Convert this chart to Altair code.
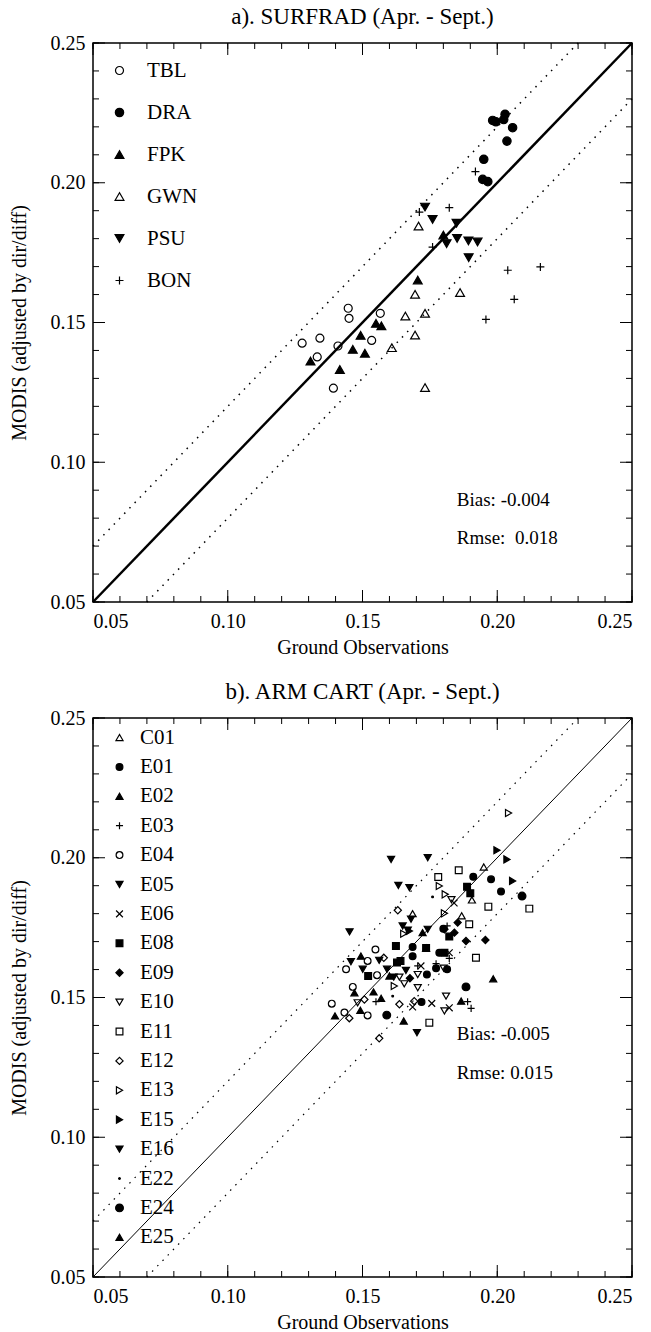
import altair as alt
import pandas as pd

FONT = "Liberation Serif"

TICKS_MINOR = [0.05, 0.06, 0.07, 0.08, 0.09, 0.10, 0.11, 0.12, 0.13, 0.14, 0.15,
               0.16, 0.17, 0.18, 0.19, 0.20, 0.21, 0.22, 0.23, 0.24, 0.25]
TICKS_MAJOR = [0.05, 0.10, 0.15, 0.20, 0.25]

ONE_X = [0.05, 0.25]
ONE_Y = [0.05, 0.25]
UP_X = [0.05, 0.23]
UP_Y = [0.07, 0.25]
LO_X = [0.07, 0.25]
LO_Y = [0.05, 0.23]

PLUS = "M-1,0L1,0M0,-1L0,1"
XMARK = "M-1,-1L1,1M-1,1L1,-1"

# ---------------- panel a : SURFRAD ----------------
A_TBL = [(0.1276, 0.1426), (0.1342, 0.1444), (0.1332, 0.1377), (0.1447, 0.1551), (0.1450, 0.1515),
         (0.1409, 0.1416), (0.1534, 0.1436), (0.1566, 0.1533), (0.1392, 0.1265)]
A_DRA = [(0.1983, 0.2223), (0.1995, 0.2218), (0.2024, 0.2226), (0.2029, 0.2245), (0.2057, 0.2197),
         (0.2036, 0.2149), (0.1950, 0.2084), (0.1946, 0.2012), (0.1965, 0.2004)]
A_FPK = [(0.1307, 0.1362), (0.1416, 0.1332), (0.1464, 0.1404), (0.1493, 0.1454), (0.1509, 0.1390),
         (0.1550, 0.1497), (0.1570, 0.1488), (0.1705, 0.1652), (0.1800, 0.1813)]
A_GWN = [(0.1708, 0.1845), (0.1695, 0.1601), (0.1862, 0.1607), (0.1659, 0.1523), (0.1732, 0.1533),
         (0.1695, 0.1455), (0.1609, 0.1410), (0.1732, 0.1267)]
A_PSU = [(0.1732, 0.1913), (0.1760, 0.1869), (0.1849, 0.1855), (0.1812, 0.1782), (0.1851, 0.1801),
         (0.1893, 0.1792), (0.1927, 0.1788), (0.1894, 0.1732)]
A_BON = [(0.1919, 0.2040), (0.1711, 0.1895), (0.1822, 0.1911), (0.1760, 0.1770), (0.2039, 0.1687),
         (0.2160, 0.1699), (0.2063, 0.1583), (0.1958, 0.1511)]

A_SITES = ["TBL", "DRA", "FPK", "GWN", "PSU", "BON"]
A_POINTS = [A_TBL, A_DRA, A_FPK, A_GWN, A_PSU, A_BON]
A_SHAPES = ["circle", "circle", "triangle-up", "triangle-up", "triangle-down", PLUS]
A_FILLS = ["transparent", "black", "black", "transparent", "black", "transparent"]
A_SIZES = [64, 70, 78, 78, 78, 64]
A_STATS = ["Bias: -0.004", "Rmse:\u00a0 0.018"]
A_STATS_X = [0.185, 0.185]
A_STATS_Y = [0.0865, 0.0729]

# ---------------- panel b : ARM CART ----------------
B_C01 = [(0.1950, 0.1967), (0.1686, 0.1800), (0.1906, 0.1849), (0.1868, 0.1792), (0.1736, 0.1677)]
B_E01 = [(0.1911, 0.1932), (0.1977, 0.1923), (0.2014, 0.1879), (0.1686, 0.1681), (0.1800, 0.1746),
         (0.1686, 0.1648), (0.1785, 0.1660), (0.1719, 0.1484), (0.1739, 0.1582), (0.1773, 0.1605),
         (0.1814, 0.1601)]
B_E02 = [(0.1723, 0.1732), (0.1494, 0.1648), (0.1470, 0.1517), (0.1541, 0.1520), (0.1569, 0.1497),
         (0.1492, 0.1454), (0.1985, 0.1567), (0.1600, 0.1577)]
B_E03 = [(0.1814, 0.1756), (0.1705, 0.1613), (0.1773, 0.1621), (0.1822, 0.1640), (0.1550, 0.1485),
         (0.1890, 0.1485), (0.1903, 0.1461)]
B_E04 = [(0.1548, 0.1672), (0.1519, 0.1631), (0.1439, 0.1601), (0.1554, 0.1580), (0.1464, 0.1538),
         (0.1386, 0.1478), (0.1433, 0.1446), (0.1519, 0.1436)]
B_E05 = [(0.1680, 0.1780), (0.1649, 0.1756), (0.1668, 0.1741), (0.1742, 0.1744), (0.1457, 0.1628),
         (0.1562, 0.1633), (0.1591, 0.1601), (0.1661, 0.1597), (0.1702, 0.1374), (0.1616, 0.1573),
         (0.1501, 0.1601)]
B_E06 = [(0.1840, 0.1838), (0.1686, 0.1466), (0.1757, 0.1479), (0.1717, 0.1613), (0.1822, 0.1463),
         (0.1822, 0.1660)]
B_E08 = [(0.1888, 0.1896), (0.1900, 0.1873), (0.1822, 0.1718), (0.1624, 0.1684), (0.1641, 0.1631),
         (0.1521, 0.1577), (0.1628, 0.1625), (0.1804, 0.1660), (0.1736, 0.1677)]
B_E09 = [(0.1853, 0.1768), (0.1841, 0.1732), (0.1884, 0.1702), (0.1956, 0.1706), (0.1804, 0.1744),
         (0.1676, 0.1569)]
B_E10 = [(0.1482, 0.1481), (0.1810, 0.1505), (0.1804, 0.1452), (0.1705, 0.1535), (0.1705, 0.1582),
         (0.1655, 0.1549), (0.1637, 0.1573), (0.1830, 0.1850), (0.1801, 0.1605)]
B_E11 = [(0.1857, 0.1955), (0.1781, 0.1931), (0.1967, 0.1825), (0.1896, 0.1762), (0.2119, 0.1818),
         (0.1921, 0.1642), (0.1748, 0.1410)]
B_E12 = [(0.1631, 0.1812), (0.1579, 0.1642), (0.1507, 0.1493), (0.1451, 0.1426), (0.1637, 0.1476),
         (0.1562, 0.1354), (0.1692, 0.1487)]
B_E13 = [(0.2042, 0.2160), (0.1785, 0.1899), (0.1807, 0.1869), (0.1804, 0.1801), (0.1653, 0.1728),
         (0.1618, 0.1541)]
B_E15 = [(0.1999, 0.2027), (0.2036, 0.1994), (0.2057, 0.1917), (0.1674, 0.1738)]
B_E16 = [(0.1606, 0.1994), (0.1742, 0.2000), (0.1633, 0.1901), (0.1674, 0.1893), (0.1452, 0.1735)]
B_E22 = [(0.1760, 0.1860), (0.1612, 0.1505)]
B_E24 = [(0.2092, 0.1863), (0.1884, 0.1538), (0.1590, 0.1437)]
B_E25 = [(0.1398, 0.1434), (0.1866, 0.1487), (0.1653, 0.1416)]

B_SITES = ["C01", "E01", "E02", "E03", "E04", "E05", "E06", "E08", "E09", "E10",
           "E11", "E12", "E13", "E15", "E16", "E22", "E24", "E25"]
B_POINTS = [B_C01, B_E01, B_E02, B_E03, B_E04, B_E05, B_E06, B_E08, B_E09, B_E10,
            B_E11, B_E12, B_E13, B_E15, B_E16, B_E22, B_E24, B_E25]
B_SHAPES = ["triangle-up", "circle", "triangle-up", PLUS, "circle", "triangle-down", XMARK,
            "square", "diamond", "triangle-down", "square", "diamond", "triangle-right",
            "triangle-right", "triangle-down", "circle", "circle", "triangle-up"]
B_FILLS = ["transparent", "black", "black", "transparent", "transparent", "black", "transparent",
           "black", "black", "transparent", "transparent", "transparent", "transparent",
           "black", "black", "black", "black", "black"]
B_SIZES = [50, 46, 50, 50, 46, 50, 46, 46, 52, 50, 46, 52, 50, 50, 50, 3, 60, 50]
B_STATS = ["Bias: -0.005", "Rmse: 0.015"]
B_STATS_X = [0.185, 0.185]
B_STATS_Y = [0.137, 0.123]

W, H = 539, 559
DOM = [0.05, 0.25]


def panel(title, sites, points, shapes, fills, sizes, stats, sx, sy, solid_w, dot_w,
          legend_y, row_pad, label_off):
    xs = alt.Scale(domain=DOM, nice=False, zero=False)
    ys = alt.Scale(domain=DOM, nice=False, zero=False)
    xax = alt.Axis(values=TICKS_MAJOR, format=".2f", grid=False, domain=False, ticks=False,
                   tickSize=0, labelPadding=9, titlePadding=6)
    yax = alt.Axis(values=TICKS_MAJOR, format=".2f", grid=False, domain=False, ticks=False,
                   tickSize=0, labelPadding=8, titlePadding=21)
    X = alt.X("x:Q", scale=xs, axis=xax, title="Ground Observations")
    Y = alt.Y("y:Q", scale=ys, axis=yax, title="MODIS (adjusted by dir/diff)")

    lines = pd.DataFrame({
        "x": ONE_X + UP_X + LO_X,
        "y": ONE_Y + UP_Y + LO_Y,
        "k": ["one", "one", "up", "up", "lo", "lo"],
    })
    solid = alt.Chart(lines[lines.k == "one"]).mark_line(
        color="black", strokeWidth=solid_w).encode(x=X, y=Y)
    dotted = alt.Chart(lines[lines.k != "one"]).mark_line(
        color="black", strokeWidth=dot_w, strokeDash=[1.5, 6]).encode(x=X, y=Y, detail="k:N")

    rows = []
    for s, pts in zip(sites, points):
        for px, py in pts:
            rows.append({"site": s, "x": px, "y": py})
    pdf = pd.DataFrame(rows)

    leg = alt.Legend(title=None, orient="none", legendX=16, legendY=legend_y, padding=0,
                     labelFont=FONT, labelFontSize=21, labelColor="black",
                     rowPadding=row_pad, labelOffset=label_off,
                     symbolStrokeColor="black", symbolStrokeWidth=1.2, symbolOpacity=1)
    pts_layer = alt.Chart(pdf).mark_point(opacity=1, strokeWidth=1.2).encode(
        x=X, y=Y,
        shape=alt.Shape("site:N", scale=alt.Scale(domain=sites, range=shapes), legend=leg),
        fill=alt.Fill("site:N", scale=alt.Scale(domain=sites, range=fills), legend=leg),
        stroke=alt.Stroke("site:N", scale=alt.Scale(domain=sites, range=["black"] * len(sites)),
                          legend=leg),
        size=alt.Size("site:N", scale=alt.Scale(type="ordinal", domain=sites, range=sizes),
                      legend=leg),
    )

    txt = pd.DataFrame({"x": sx, "y": sy, "t": stats})
    stat_layer = alt.Chart(txt).mark_text(
        align="left", baseline="middle", font=FONT, fontSize=19, color="black").encode(
        x=X, y=Y, text="t:N")

    minor = pd.DataFrame({"x": TICKS_MINOR, "y": TICKS_MINOR})
    major = pd.DataFrame({"x": TICKS_MAJOR, "y": TICKS_MAJOR})
    tick_layers = []
    for df, ln in [(minor, 6), (major, 12)]:
        base = alt.Chart(df).mark_rule(color="black", strokeWidth=1)
        tick_layers += [
            base.encode(x=X, y=alt.value(H), y2=alt.value(H - ln)),
            base.encode(x=X, y=alt.value(0), y2=alt.value(ln)),
            base.encode(y=Y, x=alt.value(0), x2=alt.value(ln)),
            base.encode(y=Y, x=alt.value(W), x2=alt.value(W - ln)),
        ]

    return alt.layer(solid, dotted, *tick_layers, pts_layer, stat_layer).properties(
        width=W, height=H,
        title=alt.TitleParams(title, font=FONT, fontSize=23, fontWeight="normal",
                              color="black", offset=4),
    )


pa = panel("a). SURFRAD (Apr. - Sept.)", A_SITES, A_POINTS, A_SHAPES, A_FILLS, A_SIZES,
           A_STATS, A_STATS_X, A_STATS_Y, 2.5, 1.5, 17, 20, 17)
pb = panel("b). ARM CART (Apr. - Sept.)", B_SITES, B_POINTS, B_SHAPES, B_FILLS, B_SIZES,
           B_STATS, B_STATS_X, B_STATS_Y, 1.0, 1.2, 9, 7.4, 10)

chart = alt.vconcat(pa, pb, spacing=22).resolve_scale(
    shape="independent", fill="independent", size="independent", stroke="independent",
    x="independent", y="independent",
).resolve_legend(shape="independent", fill="independent", size="independent",
                 stroke="independent").configure_view(
    stroke="black", strokeWidth=1.5
).configure_axis(
    labelFont=FONT, titleFont=FONT, labelFontSize=20, titleFontSize=20,
    titleFontWeight="normal", labelColor="black", titleColor="black",
).properties(
    padding={"left": 8, "right": 5, "top": 5, "bottom": 5},
    background="white",
)

chart.save("out.html", embed_options={"renderer": "svg", "actions": False})
